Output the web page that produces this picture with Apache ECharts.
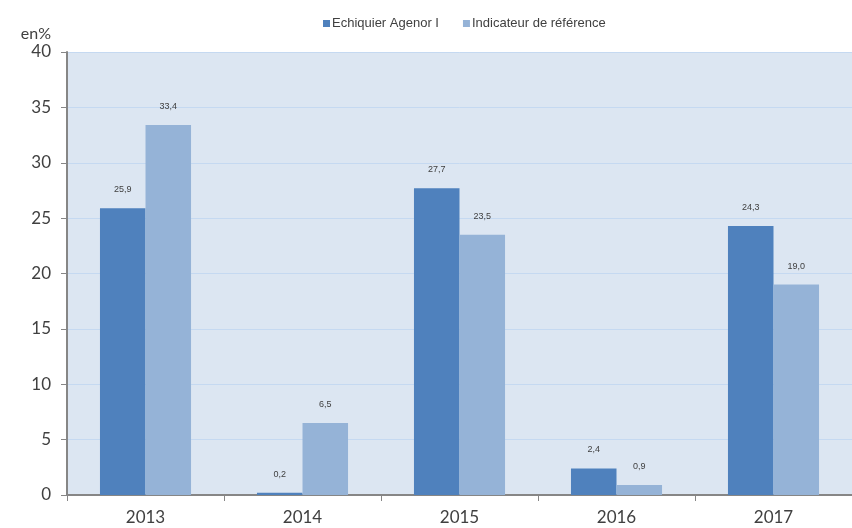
<!DOCTYPE html>
<html><head><meta charset="utf-8">
<script src="https://cdn.jsdelivr.net/npm/echarts@6/dist/echarts.min.js"></script>
<style>html,body{margin:0;padding:0;background:#fff}#c{width:852px;height:528px}</style>
</head><body><div id="c"></div>
<script>
const categories = ['2013','2014','2015','2016','2017'];
const seriesNames = ['Echiquier Agenor I','Indicateur de référence'];
const agenor = [25.9, 0.2, 27.7, 2.4, 24.3];
const reference = [33.4, 6.5, 23.5, 0.9, 19.0];
const yTicks = [0,5,10,15,20,25,30,35,40];

const chart = echarts.init(document.getElementById('c'));
const fmt = p => p.value.toFixed(1).replace('.', ',');
const lbl = {show:true, position:'top', distance:14, formatter:fmt, fontSize:9, color:'#404040', fontFamily:'Liberation Sans'};
chart.setOption({
  animation:false,
  legend:{top:12, left:318, itemWidth:7, itemHeight:7, itemGap:24, icon:'rect',
    textStyle:{fontSize:13, color:'#404040', fontFamily:'Liberation Sans', padding:[0,0,0,-3]},
    data:seriesNames},
  grid:{left:67, right:0, top:52, bottom:33, show:true, backgroundColor:'#dce6f2', borderWidth:0},
  xAxis:{type:'category', data:categories,
    axisLine:{lineStyle:{color:'#868686', width:2}},
    axisTick:{show:true, length:6, lineStyle:{color:'#868686', width:1}},
    axisLabel:{fontSize:17, color:'#404040', margin:14, fontFamily:'Lato'}},
  yAxis:{type:'value', min:0, max:40, interval:5, name:'en%',
    nameLocation:'end', nameGap:10, nameTextStyle:{fontSize:16, color:'#404040', align:'right', padding:[0,16,0,0], fontFamily:'Lato'},
    axisLine:{show:true, lineStyle:{color:'#868686', width:2}},
    axisTick:{show:true, length:6, lineStyle:{color:'#868686'}},
    axisLabel:{fontSize:17, color:'#404040', margin:16, fontFamily:'Lato',
      formatter:v => yTicks.includes(v) ? String(v) : ''},
    splitLine:{lineStyle:{color:'#c5d9f1', width:1}}},
  series:[
    {name:seriesNames[0], type:'bar', data:agenor, barGap:'0%', barCategoryGap:'42%',
      itemStyle:{color:'#4f81bd'}, label:lbl},
    {name:seriesNames[1], type:'bar', data:reference,
      itemStyle:{color:'#95b3d7'}, label:lbl}
  ]
});
</script></body></html>
